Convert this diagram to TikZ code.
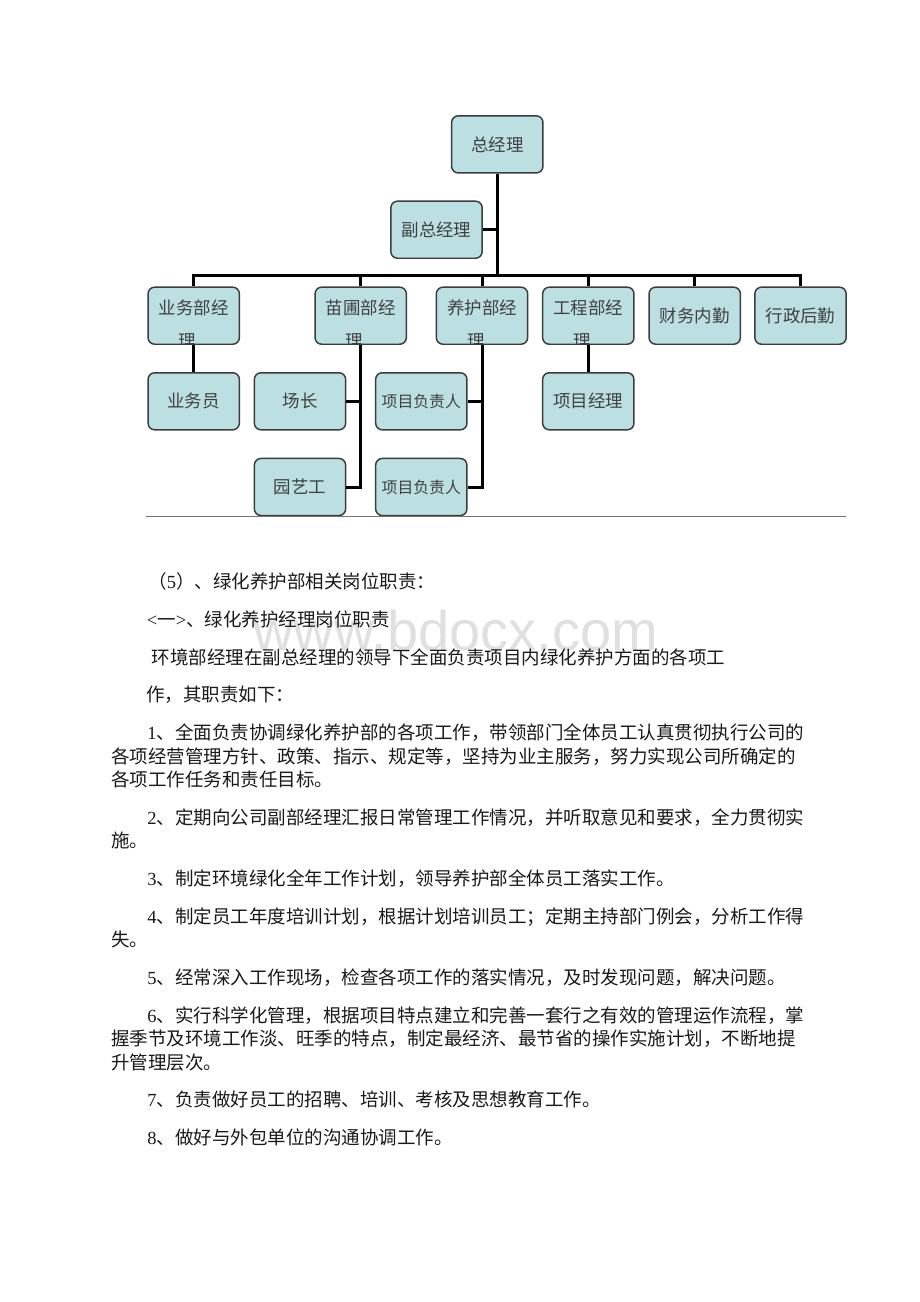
\documentclass[tikz,border=0pt]{standalone}
\usepackage{fontspec}
\usepackage{tikz}
\setmainfont{Liberation Serif}
\newfontfamily\cjk{Noto Sans CJK SC}
\newfontfamily\wmfont{Liberation Sans}
\definecolor{boxfill}{RGB}{188,224,226}
\definecolor{boxline}{RGB}{60,60,60}

\begin{document}
\begin{tikzpicture}[x=0.75pt,y=-0.75pt,
	orgbox/.style={draw=boxline,fill=boxfill,line width=1.1pt,rounded corners=5pt,
		minimum width=68.5pt,minimum height=42.8pt,inner sep=0pt,
		text=black!75,font=\cjk\fontsize{13.1pt}{15pt}\selectfont},
	boxtext/.style={inner sep=0pt,text=black!75,font=\cjk\fontsize{13.1pt}{15pt}\selectfont},
	smalltext/.style={font=\cjk\fontsize{11.9pt}{14pt}\selectfont},
	link/.style={line width=2.25pt,black},
	bodyline/.style={anchor=base west,inner sep=0pt,text=black!90,
		font=\cjk\fontsize{13.875pt}{16pt}\selectfont}]
	\useasboundingbox (0,0) rectangle (920,1302);
	
	% Watermark behind the text
	\node[anchor=base west,inner sep=0pt,text=black!12,font=\wmfont\fontsize{42pt}{42pt}\selectfont] (wm) at (253,650) {www.bdocx.com};
	
	% Define the boxes of the chart
	\node[orgbox] (zjl) at (497.3,144.4) {总经理};
	\node[orgbox] (fzjl) at (436.5,229.7) {副总经理};
	\node[orgbox] (ywb) at (193.7,315.7) {};
	\node[orgbox] (mpb) at (360.7,315.7) {};
	\node[orgbox] (yhb) at (482,315.7) {};
	\node[orgbox] (gcb) at (588.3,315.7) {};
	\node[orgbox] (cwnq) at (694.7,315.7) {财务内勤};
	\node[orgbox] (xzhq) at (800.5,315.7) {行政后勤};
	\node[orgbox] (ywy) at (193.7,401.3) {业务员};
	\node[orgbox] (cz) at (300,401.3) {场长};
	\node[orgbox,smalltext] (xmfzr1) at (421.3,401.3) {项目负责人};
	\node[orgbox] (xmjl) at (588.3,401.3) {项目经理};
	\node[orgbox] (yyg) at (300,487) {园艺工};
	\node[orgbox,smalltext] (xmfzr2) at (421.3,487) {项目负责人};
	
	% Department titles, the last character is cut off by the box
	\foreach \b/\t in {ywb/业务部经,mpb/苗圃部经,yhb/养护部经,gcb/工程部经}{
		\node[boxtext] (\b-t) at ([yshift=5.8pt]\b.center) {\t};
		\begin{scope}
			\clip ([shift={(1.5,-1.5)}]\b.south west) rectangle ([shift={(-1.5,1.5)}]\b.north east);
			\node[boxtext] (\b-c) at ([shift={(-6,33.5)}]\b-t.center) {理};
		\end{scope}
	}
	
	% Draw the connectors
	\path (zjl.south) ++(0,102.3) coordinate (bus);
	\draw[link] (zjl.south) -- (bus);
	\draw[link] (fzjl.east) -- (fzjl.east -| zjl.south);
	\draw[link] (ywb.north) |- (bus);
	\draw[link] (mpb.north) |- (bus);
	\draw[link] (yhb.north) |- (bus);
	\draw[link] (gcb.north) |- (bus);
	\draw[link] (cwnq.north) |- (bus);
	\draw[link] (xzhq.north) |- (bus);
	\draw[link] (ywb.south) -- (ywy.north);
	\draw[link] (mpb.south) |- (yyg.east);
	\draw[link] (cz.east) -- (cz.east -| mpb.south);
	\draw[link] (yhb.south) |- (xmfzr2.east);
	\draw[link] (xmfzr1.east) -- (xmfzr1.east -| yhb.south);
	\draw[link] (gcb.south) -- (xmjl.north);
	
	% Rule under the chart
	\draw[black!55,line width=0.75pt] (146,516.7) -- (846,516.7);
	
	% Text of the page
	\node[bodyline] (l0) at (148,588.7) {（{\rmfamily 5}）、绿化养护部相关岗位职责：};
	\node[bodyline] (l1) at (146.7,626.4) {{\rmfamily <}一{\rmfamily >}、绿化养护经理岗位职责};
	\node[bodyline] (l2) at (151.5,664.1) {环境部经理在副总经理的领导下全面负责项目内绿化养护方面的各项工};
	\node[bodyline] (l3) at (146,701.8) {作，其职责如下：};
	\node[bodyline] (l4) at (147,739.5) {{\rmfamily 1}、全面负责协调绿化养护部的各项工作，带领部门全体员工认真贯彻执行公司的};
	\node[bodyline] (l5) at (111,763) {各项经营管理方针、政策、指示、规定等，坚持为业主服务，努力实现公司所确定的};
	\node[bodyline] (l6) at (111,786.5) {各项工作任务和责任目标。};
	\node[bodyline] (l7) at (147,824.2) {{\rmfamily 2}、定期向公司副部经理汇报日常管理工作情况，并听取意见和要求，全力贯彻实};
	\node[bodyline] (l8) at (111,847.7) {施。};
	\node[bodyline] (l9) at (147,885.4) {{\rmfamily 3}、制定环境绿化全年工作计划，领导养护部全体员工落实工作。};
	\node[bodyline] (l10) at (147,923.1) {{\rmfamily 4}、制定员工年度培训计划，根据计划培训员工；定期主持部门例会，分析工作得};
	\node[bodyline] (l11) at (111,946.6) {失。};
	\node[bodyline] (l12) at (147,984.3) {{\rmfamily 5}、经常深入工作现场，检查各项工作的落实情况，及时发现问题，解决问题。};
	\node[bodyline] (l13) at (147,1022) {{\rmfamily 6}、实行科学化管理，根据项目特点建立和完善一套行之有效的管理运作流程，掌};
	\node[bodyline] (l14) at (111,1045.5) {握季节及环境工作淡、旺季的特点，制定最经济、最节省的操作实施计划，不断地提};
	\node[bodyline] (l15) at (111,1069) {升管理层次。};
	\node[bodyline] (l16) at (147,1106.7) {{\rmfamily 7}、负责做好员工的招聘、培训、考核及思想教育工作。};
	\node[bodyline] (l17) at (147,1144.4) {{\rmfamily 8}、做好与外包单位的沟通协调工作。};
\end{tikzpicture}
\end{document}
